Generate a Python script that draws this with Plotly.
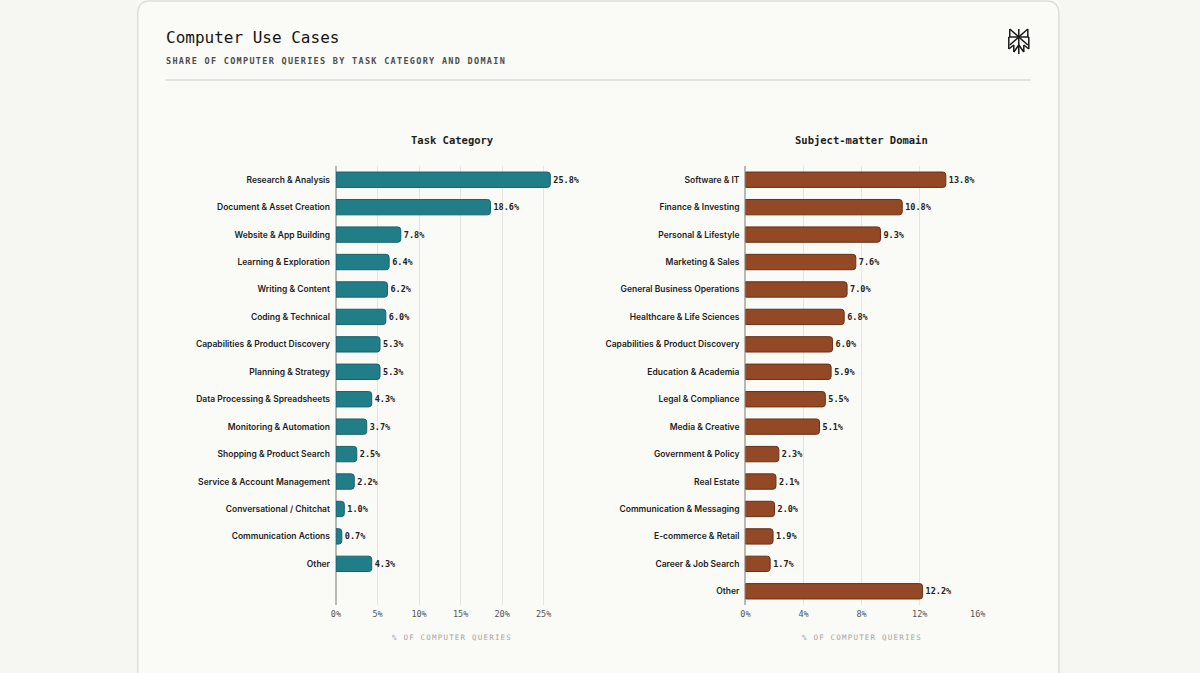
import plotly.graph_objects as go

W, H = 1200, 673
# the captured picture comes out slightly narrower than the figure; lay things out
# against the measured mapping screen_x = XS * fig_x + XO
XS, XO = 0.988, 5.4

# Task category data
task_labels = [
    "Research & Analysis", "Document & Asset Creation", "Website & App Building",
    "Learning & Exploration", "Writing & Content", "Coding & Technical",
    "Capabilities & Product Discovery", "Planning & Strategy",
    "Data Processing & Spreadsheets", "Monitoring & Automation",
    "Shopping & Product Search", "Service & Account Management",
    "Conversational / Chitchat", "Communication Actions", "Other",
]
task_values = [25.8, 18.6, 7.8, 6.4, 6.2, 6.0, 5.3, 5.3, 4.3, 3.7, 2.5, 2.2, 1.0, 0.7, 4.3]

# Subject-matter domain data
domain_labels = [
    "Software & IT", "Finance & Investing", "Personal & Lifestyle",
    "Marketing & Sales", "General Business Operations", "Healthcare & Life Sciences",
    "Capabilities & Product Discovery", "Education & Academia", "Legal & Compliance",
    "Media & Creative", "Government & Policy", "Real Estate",
    "Communication & Messaging", "E-commerce & Retail", "Career & Job Search", "Other",
]
domain_values = [13.8, 10.8, 9.3, 7.6, 7.0, 6.8, 6.0, 5.9, 5.5, 5.1, 2.3, 2.1, 2.0, 1.9, 1.7, 12.2]

task_ticks = [0, 5, 10, 15, 20, 25]
domain_ticks = [0, 4, 8, 12, 16]

MONO = "DejaVu Sans Mono"
SANS = "Inter"
BG = "#f6f6f2"
TEAL = "#217e89"
TEAL_EDGE = "#17636d"
BROWN = "#934826"
BROWN_EDGE = "#6a3017"
BORDER = "#deded9"


def px(x, y):
    # screen pixel -> paper coords
    return (x - XO) / XS / W, 1 - y / H


def spaced(text, sp):
    return f'<span style="letter-spacing:{sp}px">{text}</span>'


fig = go.Figure()

fig.add_trace(go.Bar(
    x=task_values, y=list(range(len(task_labels))), orientation="h",
    marker=dict(color=TEAL, line=dict(color=TEAL_EDGE, width=1), cornerradius=3),
    width=0.56,
    text=[f"{v:.1f}%" for v in task_values], textposition="outside",
    textfont=dict(family=MONO, size=8.5, color="#222", weight="bold"),
    cliponaxis=False, hoverinfo="skip",
    xaxis="x", yaxis="y",
))

fig.add_trace(go.Bar(
    x=domain_values, y=list(range(len(domain_labels))), orientation="h",
    marker=dict(color=BROWN, line=dict(color=BROWN_EDGE, width=1), cornerradius=3),
    width=0.56,
    text=[f"{v:.1f}%" for v in domain_values], textposition="outside",
    textfont=dict(family=MONO, size=8.5, color="#222", weight="bold"),
    cliponaxis=False, hoverinfo="skip",
    xaxis="x2", yaxis="y2",
))

_, y0 = px(0, 605)
_, y1 = px(0, 166)

xcommon = dict(
    showgrid=True, gridcolor="#e6e6e1", gridwidth=1,
    zeroline=True, zerolinecolor="#b9b9b4", zerolinewidth=1.5,
    showline=False, ticks="", fixedrange=True, ticklabelstandoff=2,
    tickfont=dict(family=MONO, size=8.5, color="#555"),
)
ycommon = dict(
    showgrid=False, zeroline=False, showline=False, ticks="",
    ticklabelstandoff=5, fixedrange=True,
    tickfont=dict(family=SANS, size=8.5, color="#1e1e1e", weight=600),
)

lx0, _ = px(336, 0)
lx1, _ = px(560, 0)
rx0, _ = px(745, 0)
rx1, _ = px(977, 0)

fig.update_layout(
    width=W, height=H,
    margin=dict(l=0, r=0, t=0, b=0),
    paper_bgcolor=BG, plot_bgcolor="rgba(0,0,0,0)",
    showlegend=False,
    xaxis=dict(domain=[lx0, lx1], range=[0, 27], tickvals=task_ticks,
               ticktext=[f"{t}%" for t in task_ticks], anchor="y", **xcommon),
    yaxis=dict(domain=[y0, y1], range=[15.5, -0.5], tickvals=list(range(len(task_labels))),
               ticktext=task_labels, anchor="x", **ycommon),
    xaxis2=dict(domain=[rx0, rx1], range=[0, 16], tickvals=domain_ticks,
                ticktext=[f"{t}%" for t in domain_ticks], anchor="y2", **xcommon),
    yaxis2=dict(domain=[y0, y1], range=[15.5, -0.5], tickvals=list(range(len(domain_labels))),
                ticktext=domain_labels, anchor="x2", **ycommon),
)

# card fill
cx0, _ = px(138, 0)
cx1, _ = px(1058, 0)
fig.add_shape(type="rect", xref="paper", yref="paper", x0=cx0, x1=cx1, y0=0, y1=1,
              fillcolor="#fafaf7", line=dict(width=0), layer="below")

# card border: sides, top edge and rounded top corners (no bottom edge)
for (a, b) in [((138, 14), (138, H)), ((1058, 14), (1058, H)), ((150, 1), (1046, 1))]:
    ax_, ay_ = px(*a)
    bx_, by_ = px(*b)
    fig.add_shape(type="line", xref="paper", yref="paper", x0=ax_, y0=ay_, x1=bx_, y1=by_,
                  line=dict(color=BORDER, width=1.5), layer="below")
for (xc, sx) in [(150, -1), (1046, 1)]:
    cxa, cya = px(xc + sx * 12, 14)
    cxb, cyb = px(xc, 1)
    fig.add_shape(type="path", xref="paper", yref="paper",
                  path=f"M {cxa},{cya} Q {cxa},{cyb} {cxb},{cyb}",
                  line=dict(color=BORDER, width=1.5), layer="below")

# separator line under the header
sx0, sly = px(166, 80)
sx1, _ = px(1030, 80)
fig.add_shape(type="line", xref="paper", yref="paper", x0=sx0, x1=sx1, y0=sly, y1=sly,
              line=dict(color="#e3e3de", width=2), layer="below")

# simple logo mark
segs = [
    ((1018, 29), (1018, 54)),
    ((1009, 29), (1027, 45)),
    ((1027, 29), (1009, 45)),
    ((1009, 29), (1009, 37)),
    ((1027, 29), (1027, 37)),
    ((1008, 37), (1028, 37)),
    ((1008, 37), (1008, 49)),
    ((1028, 37), (1028, 49)),
    ((1008, 49), (1013, 45)),
    ((1028, 49), (1023, 45)),
    ((1013, 45), (1013, 52)),
    ((1023, 45), (1023, 52)),
    ((1018, 45), (1013, 52)),
    ((1018, 45), (1023, 52)),
]
for (a, b) in segs:
    ax_, ay_ = px(*a)
    bx_, by_ = px(*b)
    fig.add_shape(type="line", xref="paper", yref="paper", x0=ax_, y0=ay_, x1=bx_, y1=by_,
                  line=dict(color="#1a1a1a", width=1.5))

# titles
tx, ty = px(164, 37)
fig.add_annotation(x=tx, y=ty, xref="paper", yref="paper", xanchor="left", yanchor="middle",
                   text="Computer Use Cases", showarrow=False,
                   font=dict(family=MONO, size=16, color="#151515"))
stx, sty = px(164, 61)
fig.add_annotation(x=stx, y=sty, xref="paper", yref="paper", xanchor="left", yanchor="middle",
                   text=spaced("SHARE OF COMPUTER QUERIES BY TASK CATEGORY AND DOMAIN", 1.3),
                   showarrow=False,
                   font=dict(family=MONO, size=8.5, color="#4d4d4d", weight="bold"))

for label, xc in [("Task Category", 452), ("Subject-matter Domain", 861)]:
    ax_, ay_ = px(xc, 140)
    fig.add_annotation(x=ax_, y=ay_, xref="paper", yref="paper", xanchor="center",
                       yanchor="middle", text=label, showarrow=False,
                       font=dict(family=MONO, size=10.5, color="#1e1e1e", weight=600))

# axis titles
for xc in [452, 861]:
    ax_, ay_ = px(xc, 637)
    fig.add_annotation(x=ax_, y=ay_, xref="paper", yref="paper", xanchor="center",
                       yanchor="middle", text=spaced("% OF COMPUTER QUERIES", 1.2),
                       showarrow=False,
                       font=dict(family=MONO, size=7.5, color="#a5a5a0"))

# drop the default body margin so the figure sits flush in the window, no scrollbars
page_js = (f"document.body.style.margin='0';document.body.style.background='{BG}';"
           "document.documentElement.style.overflow='hidden';"
           "document.body.style.overflow='hidden';")
fig.write_html("out.html", post_script=page_js, config={"displayModeBar": False})
